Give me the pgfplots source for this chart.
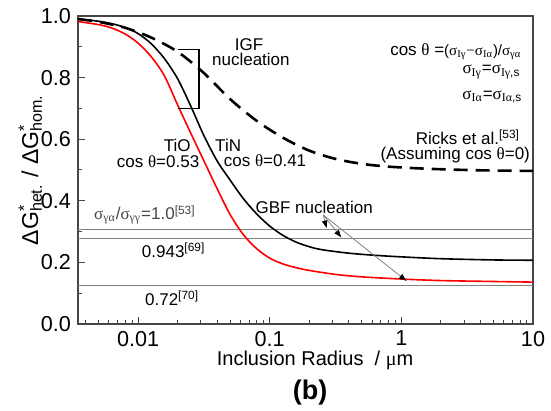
\documentclass[border=0pt]{standalone}
\usepackage{fontspec}
\setmainfont{Liberation Sans}
\newfontfamily\grk{Liberation Serif}
\usepackage{pgfplots}
\pgfplotsset{compat=1.18}
\usetikzlibrary{arrows.meta}
\newcommand{\an}{\fontsize{8.5}{9}\selectfont}
\newcommand{\g}[1]{{\grk #1}}
\definecolor{axgray}{RGB}{70,70,70}
\definecolor{hline}{RGB}{130,130,130}

\begin{document}
\begin{tikzpicture}
\begin{axis}[
    name=ax,
    scale only axis,
    width=227.5pt, height=154pt,
    xmode=log,
    xmin=0.0035, xmax=10,
    ymin=0, ymax=1,
    xtick={0.01,0.1,1,10},
    xticklabels={0.01,0.1,1,10},
    minor xtick={0.004,0.005,0.006,0.007,0.008,0.009,0.02,0.03,0.04,0.05,0.06,0.07,0.08,0.09,0.2,0.3,0.4,0.5,0.6,0.7,0.8,0.9,2,3,4,5,6,7,8,9},
    ytick={0,0.2,0.4,0.6,0.8,1.0},
    minor ytick={0.1,0.3,0.5,0.7,0.9},
    yticklabel style={/pgf/number format/fixed,/pgf/number format/fixed zerofill,/pgf/number format/precision=1},
    /pgf/number format/assume math mode=true,
    ticklabel style={font=\fontsize{10.8}{12}\selectfont},
    tick align=inside,
    tick pos=left,
    major tick length=3.5pt,
    minor tick length=2pt,
    every tick/.style={axgray, line width=0.5pt},
    axis line style={axgray, line width=0.6pt},
    clip=false,
]
% horizontal reference levels
\addplot[hline, line width=0.5pt] coordinates {(0.0035,0.308) (10,0.308)};
\addplot[hline, line width=0.5pt] coordinates {(0.0035,0.278) (10,0.278)};
\addplot[hline, line width=0.5pt] coordinates {(0.0035,0.124) (10,0.124)};

% Ricks et al. (cos theta = 0)
\addplot[black, line width=1.3pt, dash pattern=on 7pt off 4pt, smooth] coordinates {
 (0.0035,0.990) (0.005012,0.981) (0.007943,0.962) (0.012589,0.930) (0.019953,0.884)
 (0.031623,0.815) (0.050119,0.730) (0.079433,0.660) (0.125893,0.605) (0.199526,0.563)
 (0.316228,0.536) (0.501187,0.520) (0.794328,0.511) (1.584893,0.504) (3.981072,0.499) (10,0.497)};

% TiN, cos theta = 0.41
\addplot[black, line width=0.8pt, smooth] coordinates {
 (0.0035,0.990) (0.005012,0.983) (0.00631,0.975) (0.007943,0.963) (0.01,0.943)
 (0.012589,0.910) (0.015849,0.862) (0.019953,0.797) (0.025119,0.708) (0.031623,0.612)
 (0.039811,0.530) (0.050119,0.467) (0.063096,0.407) (0.079433,0.358) (0.1,0.318)
 (0.125893,0.288) (0.158489,0.266) (0.199526,0.251) (0.251189,0.241) (0.398107,0.230)
 (0.630957,0.223) (1,0.218) (1.995262,0.212) (5.011872,0.208) (10,0.207)};

% TiO, cos theta = 0.53
\addplot[red, line width=0.8pt, smooth] coordinates {
 (0.0035,0.982) (0.005012,0.972) (0.00631,0.961) (0.007943,0.942) (0.01,0.912)
 (0.012589,0.868) (0.015849,0.806) (0.019953,0.712) (0.025119,0.620) (0.031623,0.530)
 (0.039811,0.440) (0.050119,0.355) (0.063096,0.290) (0.079433,0.245) (0.1,0.214)
 (0.125893,0.195) (0.158489,0.183) (0.199526,0.174) (0.316228,0.161) (0.501187,0.153)
 (1,0.146) (1.995262,0.141) (5.011872,0.138) (10,0.136)};

% IGF bracket
\addplot[black, line width=0.6pt] coordinates {(0.0200,0.89) (0.0290,0.89) (0.0290,0.70) (0.0200,0.70)};

% GBF arrows
\draw[hline, line width=0.4pt, -{Latex[black,length=4pt,width=3pt]}] (axis cs:0.255,0.354) -- (axis cs:0.271,0.310);
\draw[hline, line width=0.4pt, -{Latex[black,length=4pt,width=3pt]}] (axis cs:0.255,0.354) -- (axis cs:0.352,0.280);
\draw[hline, line width=0.4pt, -{Latex[black,length=4pt,width=3pt]}] (axis cs:0.255,0.354) -- (axis cs:1.10,0.139);

% annotations
\node[font=\an] at (rel axis cs:0.376,0.906) {IGF};
\node[font=\an] at (rel axis cs:0.380,0.860) {nucleation};
\node[font=\an, anchor=east] at (rel axis cs:0.990,0.883)
  {cos \g{θ} ={\fontsize{7.5}{8}\selectfont(\g{σ}\textsubscript{\g{Iγ}}\g{−}\g{σ}\textsubscript{\g{Iα}})/\g{σ}\textsubscript{\g{γα}}}};
\node[font=\an, anchor=east] at (rel axis cs:0.988,0.818)
  {\g{σ}\textsubscript{\g{Iγ}}=\g{σ}\textsubscript{\g{Iγ},s}};
\node[font=\an, anchor=east] at (rel axis cs:0.992,0.737)
  {\g{σ}\textsubscript{\g{Iα}}=\g{σ}\textsubscript{\g{Iα},s}};
\node[font=\an] at (rel axis cs:0.857,0.607) {Ricks et al.\textsuperscript{[53]}};
\node[font=\an] at (rel axis cs:0.829,0.549) {(Assuming cos \g{θ}=0)};
\node[font=\an] at (rel axis cs:0.218,0.581) {TiO};
\node[font=\an] at (rel axis cs:0.176,0.526) {cos \g{θ}=0.53};
\node[font=\an] at (rel axis cs:0.330,0.581) {TiN};
\node[font=\an, anchor=west] at (rel axis cs:0.305,0.532) {cos \g{θ}=0.41};
\node[font=\an] at (rel axis cs:0.519,0.380) {GBF nucleation};
\node[font=\an, anchor=west, text=axgray] at (rel axis cs:0.020,0.354)
  {\g{σ}\textsubscript{\g{γα}}/\g{σ}\textsubscript{\g{γγ}}=1.0\textsuperscript{[53]}};
\node[font=\an, anchor=west] at (rel axis cs:0.125,0.240) {0.943\textsuperscript{[69]}};
\node[font=\an, anchor=west] at (rel axis cs:0.132,0.084) {0.72\textsuperscript{[70]}};

% axis labels
\node[font=\fontsize{10}{12}\selectfont] at (rel axis cs:0.521,-0.117) {Inclusion Radius~~/ \g{μ}m};
\node[font=\fontsize{13.5}{15}\selectfont\bfseries] at (rel axis cs:0.510,-0.221) {(b)};
\node[rotate=90, font=\fontsize{11.5}{13}\selectfont] at (rel axis cs:-0.105,0.5)
  {ΔG\rlap{\textsuperscript{*}}\textsubscript{het.} / ΔG\rlap{\textsuperscript{*}}\textsubscript{hom.}};
\end{axis}
\pgfresetboundingbox
\path ([shift={(-39pt,-43.5pt)}]ax.south west) rectangle ([shift={(9pt,8pt)}]ax.north east);
\end{tikzpicture}
\end{document}
